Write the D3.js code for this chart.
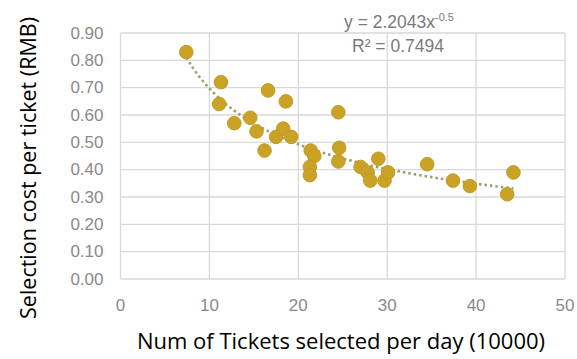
<!DOCTYPE html>
<html>
<head>
<meta charset="utf-8">
<script src="https://cdn.jsdelivr.net/npm/d3@7"></script>
<style>
  html, body { margin: 0; padding: 0; background: #fff; }
  svg { display: block; }
</style>
</head>
<body>
<svg id="chart" width="577" height="359"></svg>
<script>
// Daily ticket volume (10000) vs. selection cost per ticket (RMB)
const ticketsPerDay = [7.4, 11.3, 11.1, 12.8, 14.6, 15.3, 16.2, 16.6, 17.5, 18.3, 18.6, 19.2,
  21.4, 21.8, 21.3, 21.3, 24.5, 24.6, 24.5, 27.0, 27.8, 28.1, 29.0, 29.7, 30.1,
  34.5, 37.4, 39.3, 44.2, 43.5];
const costPerTicket = [0.83, 0.72, 0.64, 0.57, 0.59, 0.54, 0.47, 0.69, 0.52, 0.55, 0.65, 0.52,
  0.47, 0.45, 0.41, 0.38, 0.61, 0.48, 0.43, 0.41, 0.39, 0.36, 0.44, 0.36, 0.39,
  0.42, 0.36, 0.34, 0.39, 0.31];

// Power-law fit y = a * x^b
const fitCoef = 2.2043;
const fitExp = -0.5;
const fitR2 = 0.7494;

const xTicks = [0, 10, 20, 30, 40, 50];
const yTicks = [0, 0.1, 0.2, 0.3, 0.4, 0.5, 0.6, 0.7, 0.8, 0.9];

const xTitle = "Num of Tickets selected per day (10000)";
const yTitle = "Selection cost per ticket (RMB)";

const svg = d3.select("#chart");
const plot = { left: 120.5, right: 565, top: 33, bottom: 279 };

const x = d3.scaleLinear().domain([0, 50]).range([plot.left, plot.right]);
const y = d3.scaleLinear().domain([0, 0.9]).range([plot.bottom, plot.top]);

const tickFont = "'Liberation Sans', Arial, sans-serif";
const tickColor = "#8a8a8a";
const gridColor = "#d9d9d9";

// Gridlines
svg.append("g").selectAll("line").data(yTicks).join("line")
  .attr("x1", plot.left).attr("x2", plot.right)
  .attr("y1", d => y(d)).attr("y2", d => y(d))
  .attr("stroke", gridColor).attr("stroke-width", 1.3);
svg.append("g").selectAll("line").data(xTicks).join("line")
  .attr("x1", d => x(d)).attr("x2", d => x(d))
  .attr("y1", plot.top).attr("y2", plot.bottom)
  .attr("stroke", gridColor).attr("stroke-width", 1.3);

// Tick labels
svg.append("g").selectAll("text").data(yTicks).join("text")
  .attr("x", plot.left - 17).attr("y", d => y(d))
  .attr("text-anchor", "end").attr("dominant-baseline", "central")
  .attr("font-family", tickFont).attr("font-size", 17).attr("fill", tickColor)
  .text(d => d3.format(".2f")(d));
svg.append("g").selectAll("text").data(xTicks).join("text")
  .attr("x", d => x(d)).attr("y", 305)
  .attr("text-anchor", "middle").attr("dominant-baseline", "central")
  .attr("font-family", tickFont).attr("font-size", 17).attr("fill", tickColor)
  .text(d => d);

// Trendline
const xMin = d3.min(ticketsPerDay), xMax = d3.max(ticketsPerDay);
const trend = d3.range(0, 101).map(i => {
  const xv = xMin + (xMax - xMin) * i / 100;
  return [xv, fitCoef * Math.pow(xv, fitExp)];
});
svg.append("path")
  .attr("d", d3.line().x(d => x(d[0])).y(d => y(d[1]))(trend))
  .attr("fill", "none").attr("stroke", "#97a070").attr("stroke-width", 2.6)
  .attr("stroke-dasharray", "2.5,3");

// Points
const pts = ticketsPerDay.map((v, i) => ({ x: v, y: costPerTicket[i] }));
svg.append("g").selectAll("circle").data(pts).join("circle")
  .attr("cx", d => x(d.x)).attr("cy", d => y(d.y)).attr("r", 6.8)
  .attr("fill", "#c9a226").attr("stroke", "#c29b22").attr("stroke-width", 1);

// Fit equation
const eq = svg.append("text")
  .attr("x", 399).attr("y", 28).attr("text-anchor", "middle")
  .attr("font-family", tickFont).attr("font-size", 17.5).attr("fill", "#7a7a7a");
eq.append("tspan").text(`y = ${fitCoef}x`);
eq.append("tspan").attr("dy", -7).attr("font-size", 11).text(fitExp);
svg.append("text")
  .attr("x", 398).attr("y", 52).attr("text-anchor", "middle")
  .attr("font-family", tickFont).attr("font-size", 17.5).attr("fill", "#7a7a7a")
  .text(`R² = ${fitR2}`);

// Axis titles
const titleFont = "'Open Sans', 'Noto Sans', sans-serif";
svg.append("text")
  .attr("x", 341).attr("y", 349).attr("text-anchor", "middle")
  .attr("font-family", titleFont).attr("font-size", 22).attr("fill", "#000")
  .text(xTitle);
svg.append("text")
  .attr("transform", "translate(36,168) rotate(-90)")
  .attr("text-anchor", "middle")
  .attr("font-family", titleFont).attr("font-size", 21.5).attr("fill", "#000")
  .text(yTitle);
</script>
</body>
</html>
